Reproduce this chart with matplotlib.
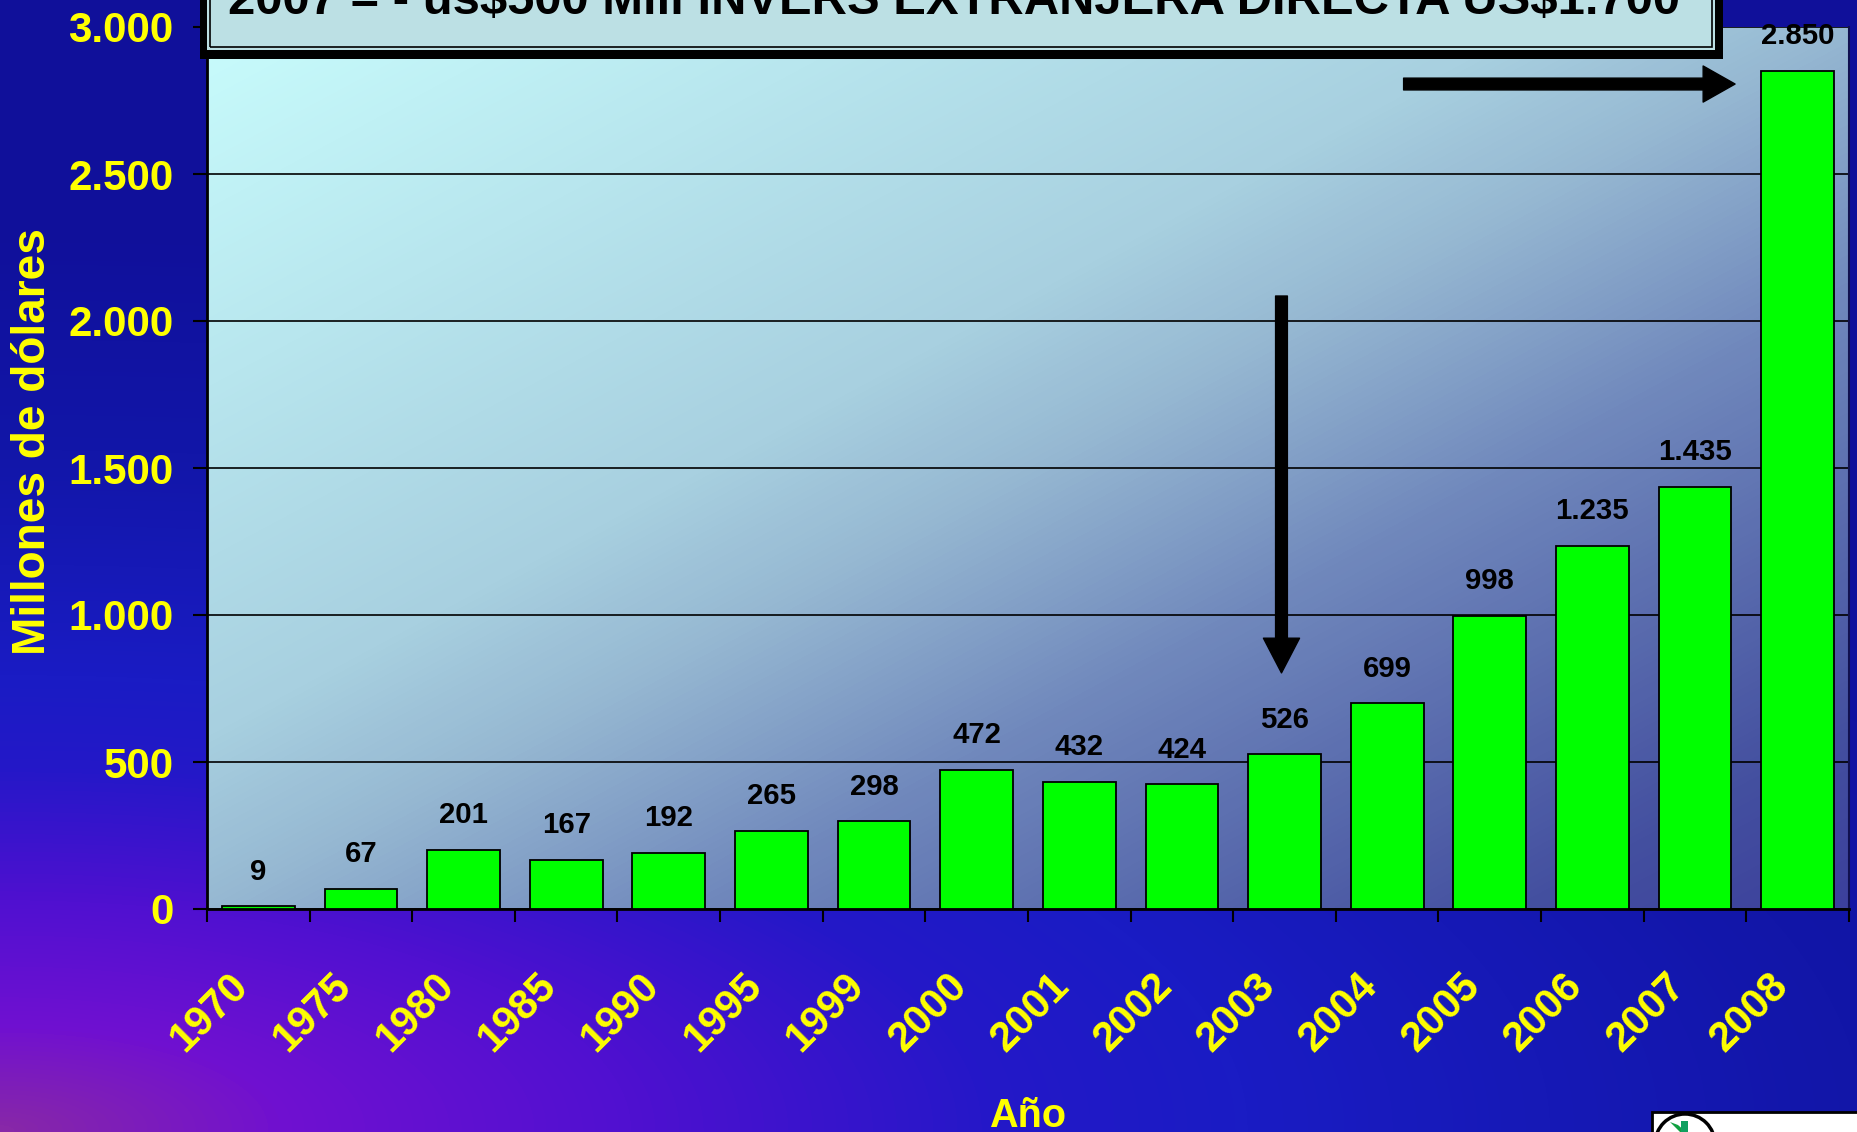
import numpy as np
import matplotlib
matplotlib.use("Agg")
import matplotlib.pyplot as plt
from matplotlib import font_manager as fm
from matplotlib.colors import LinearSegmentedColormap
from matplotlib.patches import Rectangle, Circle, Polygon
from matplotlib.transforms import IdentityTransform, ScaledTranslation

# data
years = ["1970", "1975", "1980", "1985", "1990", "1995", "1999", "2000",
         "2001", "2002", "2003", "2004", "2005", "2006", "2007", "2008"]
values = [9, 67, 201, 167, 192, 265, 298, 472, 432, 424, 526, 699, 998, 1235, 1435, 2850]
yticks = [0, 500, 1000, 1500, 2000, 2500, 3000]

title = "2007 = - us$500 Mill INVERS EXTRANJERA DIRECTA US$1.700"
ylabel = "Millones de dólares"
xlabel = "Año"

# narrow font if present, else regular one sized by cap height
names = {f.name for f in fm.fontManager.ttflist}
if "Liberation Sans Narrow" in names:
    NARROW, k = "Liberation Sans Narrow", 1.0
else:
    NARROW, k = "Liberation Sans", 0.92
WIDE = "Liberation Sans"
YELLOW = "#ffff00"

W, H = 1858, 1132
fig = plt.figure(figsize=(W / 100, H / 100), dpi=100)

# figure background: purple glow from bottom-left into deep blue
bg = fig.add_axes([0, 0, 1, 1], zorder=-10)
gx, gy = np.meshgrid(np.linspace(0, 1, 400), np.linspace(0, 1, 250))
r = np.sqrt(gx ** 2 + (gy / 0.6) ** 2) / 1.67
bg_cmap = LinearSegmentedColormap.from_list("bg", [
    (0.0, "#8828a8"), (0.09, "#7010d0"), (0.20, "#5010d0"), (0.32, "#2418c8"),
    (0.40, "#1a1cc4"), (0.60, "#1216a8"), (0.80, "#10109a"), (1.0, "#10109a")])
bg.imshow(np.clip(r, 0, 1), cmap=bg_cmap, vmin=0, vmax=1, extent=[0, 1, 0, 1],
          aspect="auto", origin="lower", interpolation="bilinear")
bg.axis("off")

ax = fig.add_axes([207 / W, 1 - 909 / H, (1849 - 207) / W, (909 - 27) / H])
x = np.arange(len(years))

# plot area: diagonal light cyan -> slate blue
px_, py_ = np.meshgrid(np.linspace(0, 1, 300), np.linspace(0, 1, 200))
t = 0.5 * (px_ + (1 - py_))
pa_cmap = LinearSegmentedColormap.from_list("pa", [
    (0.0, "#c8fcfc"), (0.4, "#a8d0e0"), (0.5, "#96b8d2"), (0.65, "#7088bc"),
    (0.9, "#4450a0"), (1.0, "#3c409c")])
ax.imshow(t, cmap=pa_cmap, vmin=0, vmax=1, extent=[-0.5, 15.5, 0, 3000],
          aspect="auto", origin="lower", zorder=0, interpolation="bilinear")

ax.bar(x, values, width=0.71, color="#00ff00", edgecolor="black", linewidth=1.3, zorder=3)
for i, v in enumerate(values):
    ax.annotate(f"{v:,}".replace(",", "."), (i, v), xytext=(0, 15),
                textcoords="offset points", ha="center", va="bottom",
                fontsize=23 * k, fontweight="bold", family=NARROW, zorder=4)

ax.set_xlim(-0.5, 15.5)
ax.set_ylim(0, 3000)
ax.set_axisbelow(True)
ax.yaxis.grid(True, color="black", linewidth=1.2)

ax.set_yticks(yticks)
ax.set_yticklabels([f"{v:,}".replace(",", ".") for v in yticks],
                   fontsize=33 * k, fontweight="bold", family=NARROW, color=YELLOW)
ax.tick_params(axis="y", length=10, width=1.5, color="black", pad=14)

ax.set_xticks(x)
ax.set_xticklabels(years, rotation=45, ha="right", va="top", rotation_mode="anchor",
                   fontsize=30, fontweight="bold", family=WIDE, color=YELLOW)
ax.set_xticks(np.arange(-0.5, 16, 1), minor=True)
ax.tick_params(axis="x", which="major", length=0, pad=41)
ax.tick_params(axis="x", which="minor", length=9, width=1.5, color="black", direction="out")
for lbl in ax.get_xticklabels():
    lbl.set_transform(lbl.get_transform() + ScaledTranslation(-30 / 100, 0, fig.dpi_scale_trans))

ax.spines["top"].set_visible(False)
ax.spines["left"].set_linewidth(2)
ax.spines["bottom"].set_linewidth(2)
ax.spines["right"].set_color("#101050")
ax.spines["right"].set_linewidth(1.5)

# arrows
arrow_v = "simple,head_length=2.5,head_width=2.6,tail_width=0.85"
arrow_h = "simple,head_length=2.3,head_width=2.6,tail_width=0.85"
ax.annotate("", xy=(9.97, 803), xytext=(9.97, 2085),
            arrowprops=dict(arrowstyle=arrow_v, mutation_scale=10, fc="black", ec="black",
                            shrinkA=0, shrinkB=0), zorder=5)
ax.annotate("", xy=(14.39, 2806), xytext=(11.16, 2806),
            arrowprops=dict(arrowstyle=arrow_h, mutation_scale=10, fc="black", ec="black",
                            shrinkA=0, shrinkB=0), zorder=5)

# title box (cut off at top of the slide), pixel coords from top
idt = IdentityTransform()


def rect(x0, y0_top, x1, y1_top, **kw):
    return Rectangle((x0, H - y1_top), x1 - x0, y1_top - y0_top, transform=idt, **kw)


fig.patches.append(rect(200, -60, 1723, 59, facecolor="black", edgecolor="none", zorder=5))
fig.patches.append(rect(207, -60, 1715, 50, facecolor="#bce0e4", edgecolor="none", zorder=6))
fig.patches.append(rect(210, -60, 1712, 47, facecolor="none", edgecolor="black", linewidth=1.2, zorder=7))
fig.text(954 / W, 1 - 14 / H, title, ha="center", va="baseline", fontsize=43 * 0.82 if k < 1 else 43,
         fontweight="bold", family=NARROW, color="black", zorder=8, parse_math=False)

fig.text(33 / W, 1 - 442 / H, ylabel, rotation=90, ha="center", va="center",
         fontsize=36 * k, fontweight="bold", family=NARROW, color=YELLOW)
fig.text(1028 / W, 1 - 1127 / H, xlabel, ha="center", va="baseline",
         fontsize=31 * k, fontweight="bold", family=NARROW, color=YELLOW)

# logo corner
fig.patches.append(rect(1652, 1112, 1870, 1150, facecolor="white", edgecolor="black", linewidth=2, zorder=5))
fig.patches.append(Circle((1685, H - 1144), 30, transform=idt, facecolor="white",
                          edgecolor="black", linewidth=2.5, zorder=6))
fig.patches.append(Polygon([(1670, H - 1122), (1678, H - 1125), (1686, H - 1132), (1680, H - 1132)],
                           closed=True, transform=idt, facecolor="#10a040", edgecolor="none", zorder=7))
fig.patches.append(rect(1681, 1121, 1688, 1132, facecolor="#10a060", edgecolor="none", zorder=7))

fig.savefig("out.png", dpi=100)
